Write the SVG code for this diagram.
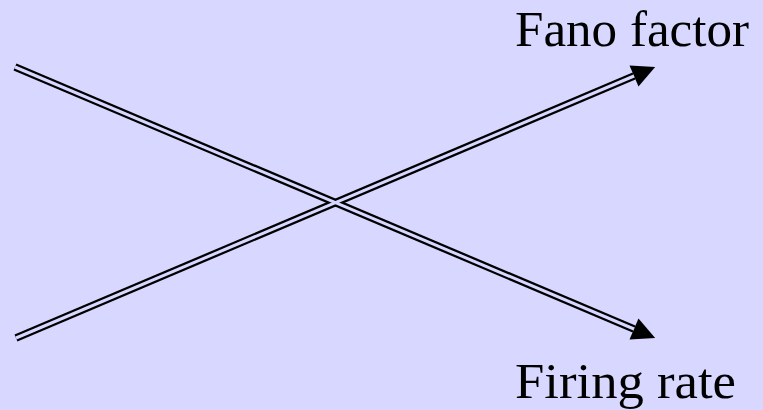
<svg xmlns="http://www.w3.org/2000/svg" width="763" height="410" viewBox="0 0 763 410">
<style>
.outer{stroke:#000;stroke-width:7.5;fill:none}
.inner{stroke:#d7d7ff;stroke-width:3;fill:none}
.lbl{font-family:"Liberation Serif","Times New Roman",serif;font-size:50px;fill:#000}
</style>
<defs>
<marker id="ah" markerUnits="userSpaceOnUse" markerWidth="24" markerHeight="24" refX="0" refY="11.5" orient="auto" overflow="visible">
<path d="M0,0 L23,11.5 L0,23 z" fill="#000"/>
</marker>
</defs>
<rect x="0" y="0" width="763" height="410" fill="#d7d7ff"/>
<g id="connectors">
<line class="outer" x1="15" y1="67" x2="634" y2="329" marker-end="url(#ah)"/>
<line class="outer" x1="16" y1="338" x2="634" y2="76" marker-end="url(#ah)"/>
<line class="inner" x1="15" y1="67" x2="634" y2="329"/>
<line class="inner" x1="16" y1="338" x2="634" y2="76"/>
</g>
<g id="fano"><text class="lbl" x="515" y="46" textLength="234" lengthAdjust="spacingAndGlyphs">Fano factor</text></g>
<g id="rate"><text class="lbl" x="515" y="398" textLength="221" lengthAdjust="spacingAndGlyphs">Firing rate</text></g>
</svg>
